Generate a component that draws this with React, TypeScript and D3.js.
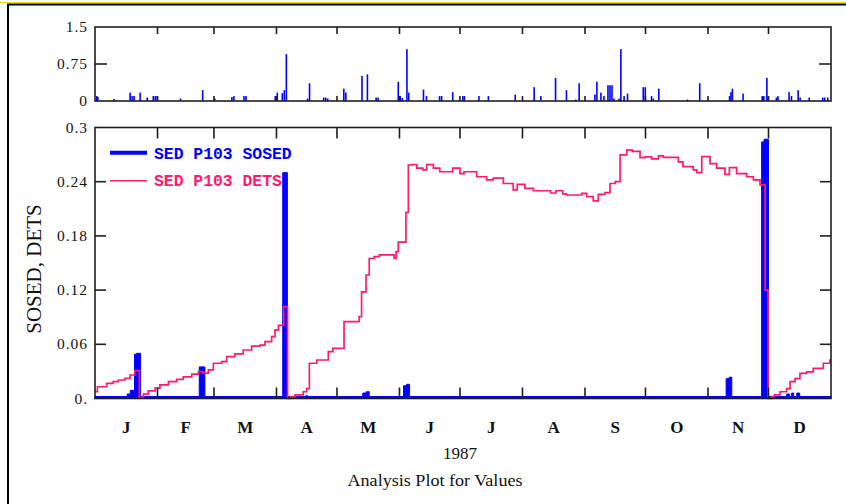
import React from "react";
import * as d3 from "d3";

const MONTH_LABELS = ["J", "F", "M", "A", "M", "J", "J", "A", "S", "O", "N", "D"];
const MONTH_DAYS = [31, 28, 31, 30, 31, 30, 31, 31, 30, 31, 30, 31];
const TOP_TICKS = [0, 0.75, 1.5];
const TOP_TICK_LABELS = ["0", "0.75", "1.5"];
const MAIN_TICKS = [0, 0.06, 0.12, 0.18, 0.24, 0.3];
const MAIN_TICK_LABELS = ["0.", "0.06", "0.12", "0.18", "0.24", "0.3"];
const SERIES_NAMES = ["SED P103 SOSED", "SED P103 DETS"];

// top panel spikes: [day of year, value]
const TOP_SPIKES: [number, number][] = [
  [0.5, 0.1], [1, 0.08], [9, 0.04], [17, 0.17], [18, 0.1], [19, 0.1], [22, 0.17], [25.5, 0.07],
  [28.5, 0.1], [29.5, 0.1], [30.5, 0.1], [42, 0.05], [53, 0.22], [59, 0.05], [67.5, 0.08], [68.5, 0.1],
  [73.5, 0.1], [74.5, 0.1], [89, 0.1], [90, 0.17], [92.5, 0.16], [93.5, 0.22], [94.5, 0.95], [105, 0.05],
  [106, 0.36], [113, 0.07], [114, 0.07], [115, 0.05], [123, 0.25], [124, 0.17], [132, 0.51], [134.7, 0.54],
  [139, 0.07], [140, 0.07], [150, 0.39], [151, 0.1], [152, 0.06], [154.3, 1.05], [155.2, 0.17], [162.5, 0.23],
  [164, 0.1], [170.5, 0.1], [171.5, 0.1], [177, 0.18], [182, 0.1], [182.8, 0.1], [190, 0.1], [194.7, 0.1],
  [208, 0.13], [217.4, 0.28], [220.7, 0.1], [228, 0.47], [233.4, 0.22], [238, 0.03], [239.7, 0.36],
  [247.5, 0.13], [248.5, 0.39], [250.5, 0.17], [252, 0.1], [254, 0.32], [255, 0.32], [256, 0.32], [257, 0.05],
  [259.5, 0.05], [260.4, 1.05], [262, 0.1], [263.7, 0.15], [271.5, 0.28], [272.5, 0.28], [275.6, 0.1],
  [276.5, 0.05], [279.2, 0.25], [293.4, 0.03], [299.5, 0.36], [314.3, 0.1], [315, 0.18], [315.7, 0.25],
  [321, 0.15], [330.5, 0.1], [331.3, 0.1], [332.8, 0.47], [333.5, 0.1], [337.5, 0.07], [338.3, 0.1],
  [343.8, 0.18], [345, 0.1], [348.3, 0.22], [349.3, 0.07], [353.8, 0.07], [360.5, 0.07], [361.5, 0.07], [363, 0.07],
];

// SOSED step series: [day, value]
const SOSED: [number, number][] = [
  [0, 0.0022], [16, 0.005], [17.5, 0.009], [19.6, 0.049], [20.5, 0.05], [22.6, 0.0022], [51.7, 0.035],
  [54.5, 0.0022], [93.1, 0.25], [95.4, 0.0022], [104.5, 0.003], [105.5, 0.0022], [132.8, 0.006],
  [134.5, 0.0075], [136, 0.0022], [153, 0.014], [154.5, 0.0157], [156, 0.0022], [313, 0.022],
  [314.5, 0.0235], [315.8, 0.0022], [330.6, 0.284], [331.8, 0.287], [334, 0.0022], [343, 0.005],
  [344.5, 0.0022], [345.5, 0.006], [346.5, 0.0022], [348, 0.006], [349.5, 0.0022], [365, 0.0022],
];

// DETS step series: [day, value]
const DETS: [number, number][] = [
  [0, 0.0075], [1.2, 0.013], [5.8, 0.0168], [9, 0.0186], [11.6, 0.0205], [14.9, 0.0223], [17.4, 0.026],
  [19.8, 0.0308], [22, 0.001], [24, 0.0048], [26.4, 0.0085], [29.8, 0.0115], [32.2, 0.015], [36.4, 0.0186],
  [40.5, 0.0212], [43.8, 0.024], [48, 0.027], [51.3, 0.0297], [53.5, 0.028], [56.2, 0.0316], [58.7, 0.039],
  [62.8, 0.0408], [65.3, 0.0463], [69.4, 0.0493], [73.5, 0.0537], [77.7, 0.058], [81.8, 0.059],
  [84.3, 0.0629], [87.6, 0.0684], [89.3, 0.076], [91, 0.081], [93.6, 0.1017], [95.5, 0.0],
  [97, 0.002], [99.2, 0.004], [103.3, 0.0075], [105, 0.011], [106.3, 0.039], [110, 0.0426], [115.7, 0.052],
  [118, 0.0555], [123.5, 0.085], [131, 0.0905], [132.2, 0.118], [134.4, 0.1367], [136, 0.155],
  [138.5, 0.157], [141, 0.159], [148.3, 0.155], [149.3, 0.1625], [150.4, 0.173], [154.2, 0.206],
  [155.4, 0.2585], [157, 0.259], [159.6, 0.255], [162.5, 0.253], [164.5, 0.259], [167.8, 0.255],
  [171, 0.251], [177.4, 0.255], [181, 0.249], [183, 0.251], [189.3, 0.2455], [194.2, 0.242],
  [197.5, 0.244], [202.5, 0.238], [207.4, 0.231], [209.4, 0.237], [213.2, 0.2327], [217.4, 0.23],
  [224, 0.23], [226, 0.2275], [228.6, 0.23], [232, 0.2265], [233.8, 0.2253], [241.4, 0.227],
  [243.8, 0.2234], [247.1, 0.2187], [249.6, 0.226], [252.9, 0.228], [255.4, 0.238], [258, 0.24],
  [260.4, 0.2696], [263.7, 0.275], [266.5, 0.2735], [270.3, 0.2667], [272.8, 0.2675], [276, 0.2653],
  [279.4, 0.2685], [281.8, 0.267], [289.3, 0.262], [291.6, 0.2566], [296.7, 0.253], [298.4, 0.25],
  [300.9, 0.2677], [305, 0.26], [308.3, 0.255], [312.4, 0.248], [314.6, 0.2555], [318.2, 0.249],
  [323.2, 0.2455], [326.5, 0.242], [329.8, 0.2364], [332.3, 0.12], [333.8, 0.0], [335.6, 0.002],
  [337, 0.004], [339.7, 0.0075], [343, 0.011], [344.7, 0.0186], [347.2, 0.022], [349.6, 0.0279],
  [352.9, 0.0295], [356.2, 0.0334], [361.2, 0.039], [364.5, 0.0426], [365, 0.0426],
];

const BLUE = "#0000ff";
const PINK = "#ff1a70";
const AXIS = "#1e1e1e";
const SERIF = "'Liberation Serif', 'Times New Roman', serif";
const MONO = "'Liberation Mono', 'Courier New', monospace";

export default function App() {
  const W = 846, H = 504;
  const x = d3.scaleLinear().domain([0, 365]).range([95, 831]);
  const yTop = d3.scaleLinear().domain([0, 1.5]).range([101, 27]);
  const y = d3.scaleLinear().domain([0, 0.3]).range([398.5, 127.5]);

  const bounds = d3.cumsum(MONTH_DAYS);
  const starts = [0, ...Array.from(bounds).slice(0, 11)];
  const inner = Array.from(bounds).slice(0, 11);

  const area = d3.area<[number, number]>()
    .x((d) => x(d[0]))
    .y0(y(0))
    .y1((d) => y(d[1]))
    .curve(d3.curveStepAfter);
  const line = d3.line<[number, number]>()
    .x((d) => x(d[0]))
    .y((d) => y(d[1]))
    .curve(d3.curveStepAfter);

  const [x0, x1] = x.range();

  return (
    <svg width={W} height={H} style={{ position: "absolute", left: 0, top: 0, background: "#fff" }}>
      {/* outer frame */}
      <line x1={0} x2={W} y1={2.5} y2={2.5} stroke="#e8d800" strokeWidth={1} />
      <line x1={7} x2={W} y1={4.5} y2={4.5} stroke="#000" strokeWidth={2} />
      <line x1={8} x2={8} y1={4} y2={H} stroke="#000" strokeWidth={2} />

      {/* top panel */}
      <g>
        {TOP_SPIKES.map((d, i) => (
          <rect key={i} x={x(d[0])} y={yTop(d[1])} width={1.6} height={yTop(0) - yTop(d[1])} fill={BLUE} />
        ))}
        <rect x={x0} y={yTop(1.5)} width={x1 - x0} height={yTop(0) - yTop(1.5)} fill="none" stroke={AXIS} strokeWidth={1.6} />
        {inner.map((b, i) => (
          <g key={i}>
            <line x1={x(b)} x2={x(b)} y1={yTop(1.5)} y2={yTop(1.5) + 7} stroke={AXIS} strokeWidth={1.6} />
            <line x1={x(b)} x2={x(b)} y1={yTop(0)} y2={yTop(0) - 5} stroke={AXIS} strokeWidth={1.6} />
          </g>
        ))}
        <line x1={x0} x2={x0 + 12} y1={yTop(0.75)} y2={yTop(0.75)} stroke={AXIS} strokeWidth={1.6} />
        <line x1={x1} x2={x1 - 12} y1={yTop(0.75)} y2={yTop(0.75)} stroke={AXIS} strokeWidth={1.6} />
        {TOP_TICKS.map((t, i) => (
          <text key={i} x={88} y={yTop(t) + 5} textAnchor="end" fontFamily={SERIF} fontSize={15.5} letterSpacing={1} fill="#111">
            {TOP_TICK_LABELS[i]}
          </text>
        ))}
      </g>

      {/* main panel */}
      <g>
        <path d={area(SOSED) || ""} fill={BLUE} stroke={BLUE} strokeWidth={1} />
        <path d={line(DETS) || ""} fill="none" stroke={PINK} strokeWidth={1.7} />
        <rect x={x0} y={y(0.3)} width={x1 - x0} height={y(0) - y(0.3)} fill="none" stroke={AXIS} strokeWidth={1.6} />
        {inner.map((b, i) => (
          <g key={i}>
            <line x1={x(b)} x2={x(b)} y1={y(0.3)} y2={y(0.3) + 11} stroke={AXIS} strokeWidth={1.6} />
            <line x1={x(b)} x2={x(b)} y1={y(0)} y2={y(0) - 11} stroke={AXIS} strokeWidth={1.6} />
          </g>
        ))}
        {MAIN_TICKS.slice(1, 5).map((t, i) => (
          <g key={i}>
            <line x1={x0} x2={x0 + 11} y1={y(t)} y2={y(t)} stroke={AXIS} strokeWidth={1.6} />
            <line x1={x1} x2={x1 - 11} y1={y(t)} y2={y(t)} stroke={AXIS} strokeWidth={1.6} />
          </g>
        ))}
        {MAIN_TICKS.map((t, i) => (
          <text key={i} x={88} y={y(t) + 5} textAnchor="end" fontFamily={SERIF} fontSize={15.5} letterSpacing={1} fill="#111">
            {MAIN_TICK_LABELS[i]}
          </text>
        ))}
        <text transform={`translate(41,269) rotate(-90)`} textAnchor="middle" fontFamily={SERIF} fontSize={21} fill="#111">
          SOSED, DETS
        </text>

        {/* legend */}
        <line x1={110} x2={147} y1={152.7} y2={152.7} stroke={BLUE} strokeWidth={4} />
        <text x={154} y={158.5} fontFamily={MONO} fontSize={16.4} fontWeight="bold" fill={BLUE}>{SERIES_NAMES[0]}</text>
        <line x1={110} x2={147} y1={180.7} y2={180.7} stroke={PINK} strokeWidth={1.6} />
        <text x={154} y={186.3} fontFamily={MONO} fontSize={16.4} fontWeight="bold" fill={PINK}>{SERIES_NAMES[1]}</text>
      </g>

      {/* month labels */}
      {MONTH_LABELS.map((m, i) => (
        <text key={i} x={x(starts[i] + MONTH_DAYS[i] / 2)} y={433} textAnchor="middle" fontFamily={SERIF} fontSize={17} fontWeight="bold" fill="#111">
          {m}
        </text>
      ))}
      <text x={460} y={459} textAnchor="middle" fontFamily={SERIF} fontSize={17} fill="#111">1987</text>
      <text x={435} y={486} textAnchor="middle" fontFamily={SERIF} fontSize={16} textLength={175} lengthAdjust="spacingAndGlyphs" fill="#111">
        Analysis Plot for Values
      </text>
    </svg>
  );
}
